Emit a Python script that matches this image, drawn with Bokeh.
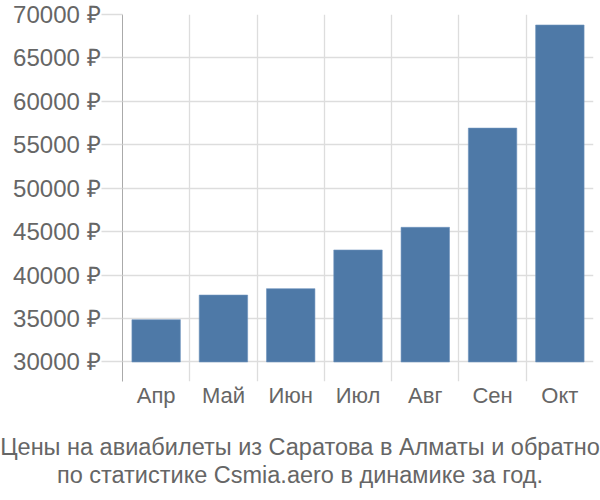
from bokeh.plotting import figure
from bokeh.models import FixedTicker, Range1d, FactorRange, Div
from bokeh.layouts import column
from bokeh.embed import file_html
from bokeh.resources import INLINE

months = ["Апр", "Май", "Июн", "Июл", "Авг", "Сен", "Окт"]
prices = [34870, 37700, 38440, 42890, 45500, 56920, 68790]
base_value = 30000
y_ticks = [30000, 35000, 40000, 45000, 50000, 55000, 60000, 65000, 70000]
caption = ["Цены на авиабилеты из Саратова в Алматы и обратно",
           "по статистике Csmia.aero в динамике за год."]

FONT = "Liberation Sans"
TXT = "#666666"
GRID = "#dddddd"

p = figure(width=600, height=418, x_range=FactorRange(*months, range_padding=0),
           y_range=Range1d(27750, 70000),
           output_backend="svg", toolbar_location=None,
           min_border_left=122, min_border_right=7, min_border_top=14, min_border_bottom=37)
p.outline_line_color = None
p.background_fill_color = "white"

p.vbar(x=months, top=prices, bottom=base_value, width=0.72,
       fill_color="#4e79a7", line_color="#6f93bd", line_width=0.6)

# grids
p.ygrid.ticker = FixedTicker(ticks=y_ticks)
p.ygrid.grid_line_color = GRID
p.ygrid.grid_line_width = 1.3
p.xgrid.ticker = FixedTicker(ticks=list(range(len(months) + 1)))
p.xgrid.grid_line_color = GRID
p.xgrid.grid_line_width = 1.3

# y axis
p.yaxis.ticker = FixedTicker(ticks=y_ticks)
p.yaxis.major_label_overrides = {v: f"{v} ₽" for v in y_ticks}
p.yaxis.major_label_text_font = FONT
p.yaxis.major_label_text_font_size = "24px"
p.yaxis.major_label_text_color = TXT
p.yaxis.major_tick_out = 21
p.yaxis.major_tick_in = 0
p.yaxis.major_tick_line_color = GRID
p.yaxis.major_tick_line_width = 1.3
p.yaxis.minor_tick_line_color = None
p.yaxis.axis_line_color = "#aaaaaa"
p.yaxis.major_label_standoff = 1

# x axis
p.xaxis.major_label_text_font = FONT
p.xaxis.major_label_text_font_size = "22px"
p.xaxis.major_label_text_color = TXT
p.xaxis.axis_line_color = None
p.xaxis.major_tick_line_color = None
p.xaxis.major_tick_out = 0
p.xaxis.major_tick_in = 0
p.xaxis.major_label_standoff = 1

cap = Div(text="<br>".join(caption), width=600, height=82, margin=0,
          styles={"text-align": "center", "font-family": FONT, "font-size": "23.5px",
                  "color": TXT, "line-height": "28px", "padding-top": "15px",
                  "width": "600px", "box-sizing": "border-box", "white-space": "nowrap"})

layout = column(p, cap, spacing=0)
open("out.html", "w").write(file_html(layout, INLINE))
